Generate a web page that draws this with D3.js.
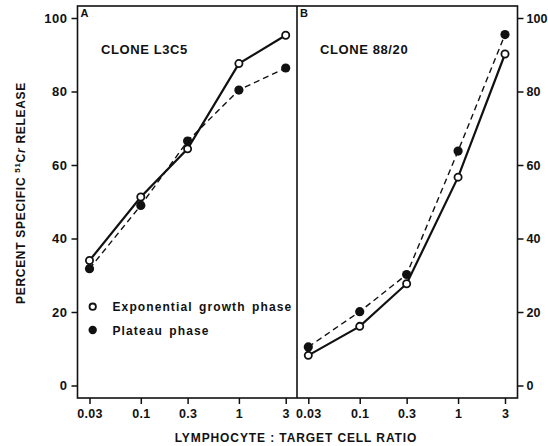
<!DOCTYPE html>
<html>
<head>
<meta charset="utf-8">
<script src="https://cdn.jsdelivr.net/npm/d3@7"></script>
<style>
  body { margin: 0; background: #fff; }
  svg text { font-family: "Liberation Sans", Arial, sans-serif; font-weight: bold; fill: #111; }
</style>
</head>
<body>
<div id="chart"></div>
<script>
// lymphocyte : target cell ratios
const ratios = [0.03, 0.1, 0.3, 1, 3];
const tickLabels = ['0.03', '0.1', '0.3', '1', '3'];
const yTicks = [0, 20, 40, 60, 80, 100];

// panel A, clone L3C5
const l3c5Exponential = [34.0, 51.3, 64.4, 87.6, 95.3];
const l3c5Plateau = [31.8, 49.0, 66.5, 80.4, 86.4];

// panel B, clone 88/20
const c8820Exponential = [8.2, 16.1, 27.7, 56.7, 90.2];
const c8820Plateau = [10.5, 20.1, 30.2, 63.8, 95.5];

const width = 548, height = 446;
const boxLeft = 77.5, boxRight = 517.5, boxTop = 6, boxBottom = 398, divider = 297;

const svg = d3.select('#chart').append('svg')
    .attr('width', width)
    .attr('height', height);

const y = d3.scaleLinear().domain([0, 100]).range([385.5, 18]);

const panels = [
    { label: 'A', title: 'CLONE L3C5', exp: l3c5Exponential, plat: l3c5Plateau,
      x: d3.scaleLog().domain([0.03, 3]).range([89.5, 285.7]), left: boxLeft, titleX: 101 },
    { label: 'B', title: 'CLONE 88/20', exp: c8820Exponential, plat: c8820Plateau,
      x: d3.scaleLog().domain([0.03, 3]).range([308.3, 505]), left: divider, titleX: 320 }
];

// frame
svg.append('rect')
    .attr('x', boxLeft).attr('y', boxTop)
    .attr('width', boxRight - boxLeft).attr('height', boxBottom - boxTop)
    .attr('fill', 'none').attr('stroke', '#111').attr('stroke-width', 1.6);
svg.append('line')
    .attr('x1', divider).attr('x2', divider)
    .attr('y1', boxTop).attr('y2', boxBottom)
    .attr('stroke', '#111').attr('stroke-width', 1.6);

// y axes on both sides
const yLeft = d3.axisLeft(y).tickValues(yTicks).tickSize(6).tickPadding(4);
const yRight = d3.axisRight(y).tickValues(yTicks).tickSize(6).tickPadding(3);

const yLeftG = svg.append('g').attr('transform', `translate(${boxLeft},0)`).call(yLeft);
const yRightG = svg.append('g').attr('transform', `translate(${boxRight},0)`).call(yRight);
[yLeftG, yRightG].forEach(g => {
    g.select('.domain').remove();
    g.selectAll('.tick line').attr('stroke', '#111').attr('stroke-width', 1.5);
    g.selectAll('.tick text')
        .attr('font-family', '"Liberation Sans", Arial, sans-serif')
        .attr('fill', '#111');
});
yLeftG.selectAll('.tick text').attr('font-size', 13).style('letter-spacing', '0.5px');
yRightG.selectAll('.tick text').attr('font-size', 12.5);

panels.forEach(p => {
    // x axis
    const xAxis = d3.axisBottom(p.x)
        .tickValues(ratios)
        .tickFormat((d, i) => tickLabels[i])
        .tickSize(6)
        .tickPadding(5);
    const xg = svg.append('g').attr('transform', `translate(0,${boxBottom})`).call(xAxis);
    xg.select('.domain').remove();
    xg.selectAll('.tick line').attr('stroke', '#111').attr('stroke-width', 1.5);
    xg.selectAll('.tick text')
        .attr('font-size', 12.5)
        .attr('font-family', '"Liberation Sans", Arial, sans-serif')
        .attr('fill', '#111')
        .style('letter-spacing', '0.3px');

    // panel letter and clone title
    svg.append('text')
        .attr('x', p.left + 3).attr('y', 17)
        .attr('font-size', 11)
        .text(p.label);
    svg.append('text')
        .attr('x', p.titleX).attr('y', 54)
        .attr('font-size', 13)
        .style('letter-spacing', '0.6px')
        .text(p.title);

    const line = vals => d3.line()
        .x((d, i) => p.x(ratios[i]))
        .y(d => y(d))(vals);

    // plateau: dashed
    svg.append('path')
        .attr('d', line(p.plat))
        .attr('fill', 'none')
        .attr('stroke', '#111')
        .attr('stroke-width', 1.4)
        .attr('stroke-dasharray', '6,4');
    // exponential: solid
    svg.append('path')
        .attr('d', line(p.exp))
        .attr('fill', 'none')
        .attr('stroke', '#111')
        .attr('stroke-width', 2.2);

    svg.selectAll(null)
        .data(p.plat)
        .join('circle')
        .attr('cx', (d, i) => p.x(ratios[i]))
        .attr('cy', d => y(d))
        .attr('r', 4.6)
        .attr('fill', '#111');
    svg.selectAll(null)
        .data(p.exp)
        .join('circle')
        .attr('cx', (d, i) => p.x(ratios[i]))
        .attr('cy', d => y(d))
        .attr('r', 3.6)
        .attr('fill', '#fff')
        .attr('stroke', '#111')
        .attr('stroke-width', 1.8);
});

// legend
const legend = svg.append('g');
legend.append('circle')
    .attr('cx', 92.7).attr('cy', 306.7).attr('r', 3.2)
    .attr('fill', '#fff').attr('stroke', '#111').attr('stroke-width', 1.8);
legend.append('text')
    .attr('x', 112.5).attr('y', 311)
    .attr('font-size', 12)
    .style('letter-spacing', '1.1px')
    .style('word-spacing', '2px')
    .text('Exponential growth phase');
legend.append('circle')
    .attr('cx', 92.7).attr('cy', 330).attr('r', 4.2)
    .attr('fill', '#111');
legend.append('text')
    .attr('x', 112.5).attr('y', 334.5)
    .attr('font-size', 12)
    .style('letter-spacing', '1.1px')
    .style('word-spacing', '2px')
    .text('Plateau phase');

// axis titles
svg.append('text')
    .attr('x', 296).attr('y', 442)
    .attr('text-anchor', 'middle')
    .attr('font-size', 12)
    .style('letter-spacing', '0.9px')
    .text('LYMPHOCYTE : TARGET CELL RATIO');

const yTitle = svg.append('text')
    .attr('transform', 'translate(25,193) rotate(-90)')
    .attr('text-anchor', 'middle')
    .attr('font-size', 12)
    .style('letter-spacing', '0.7px');
yTitle.append('tspan').text('PERCENT SPECIFIC ');
yTitle.append('tspan').attr('font-size', 8).attr('dy', -5).text('51');
yTitle.append('tspan').attr('dy', 5).text('C');
yTitle.append('tspan').attr('font-style', 'italic').text('r');
yTitle.append('tspan').text(' RELEASE');
</script>
</body>
</html>
